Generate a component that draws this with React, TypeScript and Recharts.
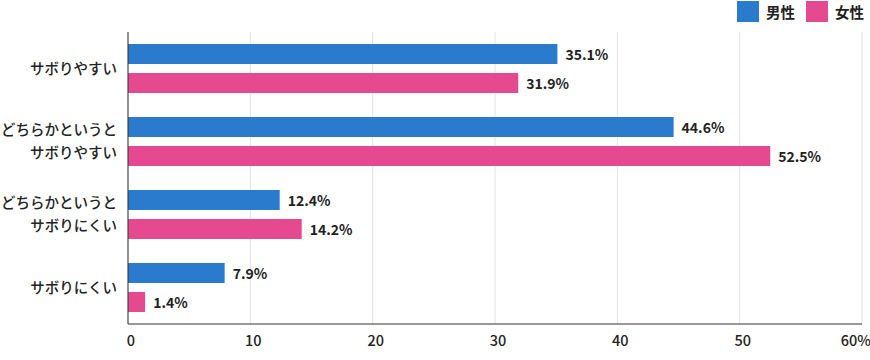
import { Bar, BarChart, CartesianGrid, LabelList, XAxis, YAxis } from "recharts";

const categories = ["サボりやすい", "どちらかというと\nサボりやすい", "どちらかというと\nサボりにくい", "サボりにくい"];
const male = [35.1, 44.6, 12.4, 7.9];
const female = [31.9, 52.5, 14.2, 1.4];
const xTicks = [0, 10, 20, 30, 40, 50, 60];

const BLUE = "#2a7bcd";
const PINK = "#e54a90";
const FONT = "'Noto Sans CJK JP', 'Noto Sans', sans-serif";

const data = categories.map((c, i) => ({ name: c, male: male[i], female: female[i] }));

function CategoryTick({ x, y, payload }: any) {
  const lines = String(payload.value).split("\n");
  const lh = 23;
  const start = -((lines.length - 1) * lh) / 2;
  return (
    <text x={x - 3} y={y} textAnchor="end" fontSize={14.5} fill="#222" fontFamily={FONT} fontWeight={500}>
      {lines.map((l, i) => (
        <tspan key={i} x={x - 3} dy={i === 0 ? start + 5 : lh}>
          {l}
        </tspan>
      ))}
    </text>
  );
}

function ValueTick({ x, y, payload }: any) {
  const last = payload.value === 60;
  return (
    <text x={last ? 871 : x + 3} y={y + 14} textAnchor={last ? "end" : "middle"} fontSize={14.5} fill="#222" fontFamily={FONT} fontWeight={500}>
      {last ? `${payload.value}%` : payload.value}
    </text>
  );
}

function BarValue({ x, y, width, height, value }: any) {
  return (
    <text x={x + width + 8} y={y + height / 2 + 6} fontSize={14} fontWeight={700} fill="#222" fontFamily={FONT}>
      {`${value}%`}
    </text>
  );
}

function LegendBox() {
  const item = (color: string, label: string) => (
    <div style={{ display: "flex", alignItems: "center", marginLeft: 11 }}>
      <div style={{ width: 22, height: 21, background: color, marginRight: 7 }} />
      <span style={{ fontSize: 14.5, fontWeight: 700, color: "#222" }}>{label}</span>
    </div>
  );
  return (
    <div style={{ position: "absolute", top: 1, right: 6, display: "flex", fontFamily: FONT }}>
      {item(BLUE, "男性")}
      {item(PINK, "女性")}
    </div>
  );
}

export default function App() {
  return (
    <div style={{ position: "absolute", left: 0, top: 0, width: 870, height: 360, background: "#fff", fontFamily: FONT }}>
      <BarChart
        width={870}
        height={360}
        data={data}
        layout="vertical"
        margin={{ top: 32, right: 8, bottom: 12, left: 0 }}
        barSize={20}
        barGap={9}
        barCategoryGap={12}
      >
        <CartesianGrid horizontal={false} stroke="#e3e3e3" />
        <XAxis
          type="number"
          domain={[0, 60]}
          ticks={xTicks}
          tick={<ValueTick />}
          tickLine={false}
          axisLine={{ stroke: "#333" }}
          height={24}
        />
        <YAxis
          type="category"
          dataKey="name"
          width={128}
          tick={<CategoryTick />}
          tickLine={false}
          axisLine={{ stroke: "#333" }}
        />
        <Bar dataKey="male" fill={BLUE} isAnimationActive={false}>
          <LabelList dataKey="male" content={<BarValue />} />
        </Bar>
        <Bar dataKey="female" fill={PINK} isAnimationActive={false}>
          <LabelList dataKey="female" content={<BarValue />} />
        </Bar>
      </BarChart>
      <LegendBox />
    </div>
  );
}
